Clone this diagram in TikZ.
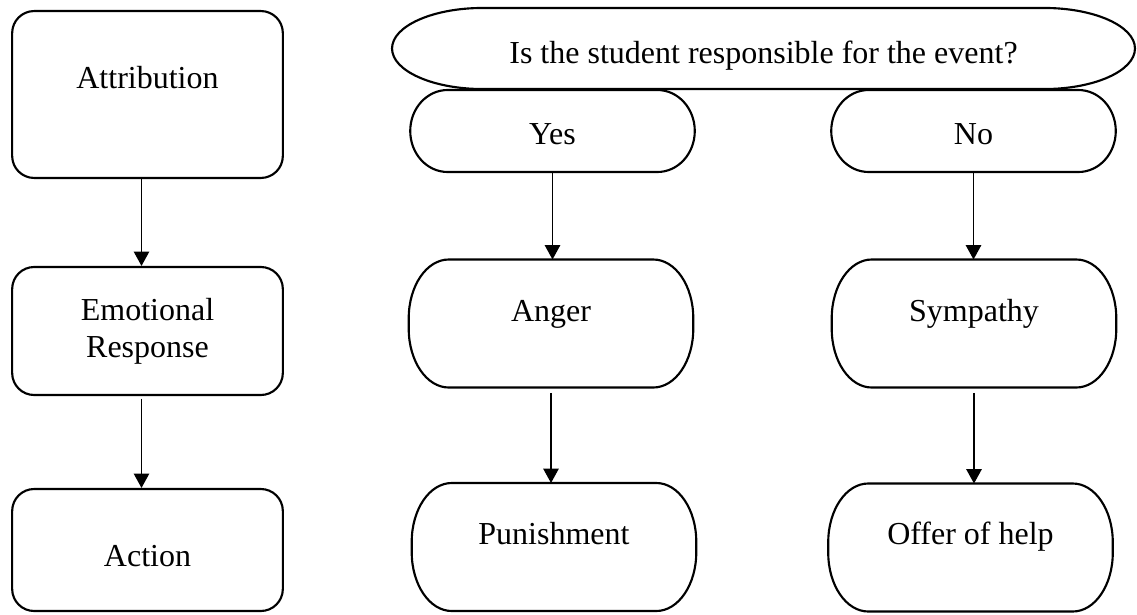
\documentclass[tikz,border=0pt]{standalone}
\usepackage{fontspec}
\setmainfont{Liberation Serif}
\usetikzlibrary{arrows.meta}
\newcommand\ovalline[3]{\draw[line width=0.8pt] ([xshift=#2]#1.north west) -- ([xshift=-#2]#1.north east)
  arc[start angle=90, end angle=0, x radius=#2, y radius=#3] -- ([yshift=#3]#1.south east)
  arc[start angle=0, end angle=-90, x radius=#2, y radius=#3] -- ([xshift=#2]#1.south west)
  arc[start angle=270, end angle=180, x radius=#2, y radius=#3] -- ([yshift=-#3]#1.north west)
  arc[start angle=180, end angle=90, x radius=#2, y radius=#3] -- cycle;}

\begin{document}
\begin{tikzpicture}[x=0.375pt,y=-0.375pt,font=\fontsize{12pt}{14pt}\selectfont,
 sqbox/.style={draw, line width=0.8pt, rounded corners=8.25pt, minimum width=101.5pt, anchor=center},
 pill/.style={outer sep=0pt, minimum width=106.7pt, minimum height=48pt, anchor=center},
 flow/.style={-{Triangle[length=5.4pt,width=5.8pt]}, line width=0.5pt}]
\useasboundingbox (0,0) rectangle (1137,614);
\node[sqbox, minimum height=62.6pt, text height=8.4pt, text depth=13.1pt] (attr) at (147.5,94.5) {Attribution};
\node[sqbox, minimum height=48pt, align=center] (emo) at (147.5,331) {Emotional\\Response};
\node[sqbox, minimum height=45.75pt, text height=12.2pt, text depth=0pt] (act) at (147.5,550) {Action};
\node[pill, minimum width=278.6pt, minimum height=30.4pt, text height=11pt, text depth=0pt] (q) at (763.5,48.5) {Is the student responsible for the event?};
\node[pill, minimum height=30.75pt, text height=9.9pt, text depth=0pt] (yes) at (552.5,131) {Yes};
\node[pill, minimum height=30.75pt, text height=9.9pt, text depth=0pt] (no) at (973.5,131) {No};
\node[pill, text height=8.4pt, text depth=10.1pt] (anger) at (551,323.5) {Anger};
\node[pill, text height=8.4pt, text depth=10.5pt] (pun) at (554,547) {Punishment};
\node[pill, text height=8.4pt, text depth=10.1pt] (sym) at (974,323.5) {Sympathy};
\node[pill, text height=8.4pt, text depth=10.5pt] (offer) at (970.5,547.5) {Offer of help};
\ovalline{q}{34pt}{15.2pt}
\ovalline{yes}{14pt}{15.375pt}
\ovalline{no}{14pt}{15.375pt}
\ovalline{anger}{15pt}{22pt}
\ovalline{pun}{15pt}{22pt}
\ovalline{sym}{15pt}{22pt}
\ovalline{offer}{15pt}{22pt}
\draw[flow] ([xshift=-2.25pt]attr.south) -- ([xshift=-2.25pt]emo.north);
\draw[flow, shorten <=1pt] ([xshift=-2.25pt]emo.south) -- ([xshift=-2.25pt]act.north);
\draw[flow] (yes.south) -- (yes.south |- anger.north);
\draw[flow, shorten <=2pt] (anger.south) -- (anger.south |- pun.north);
\draw[flow] (no.south) -- (no.south |- sym.north);
\draw[flow, shorten <=2pt] (sym.south) -- (sym.south |- offer.north);
\end{tikzpicture}
\end{document}
